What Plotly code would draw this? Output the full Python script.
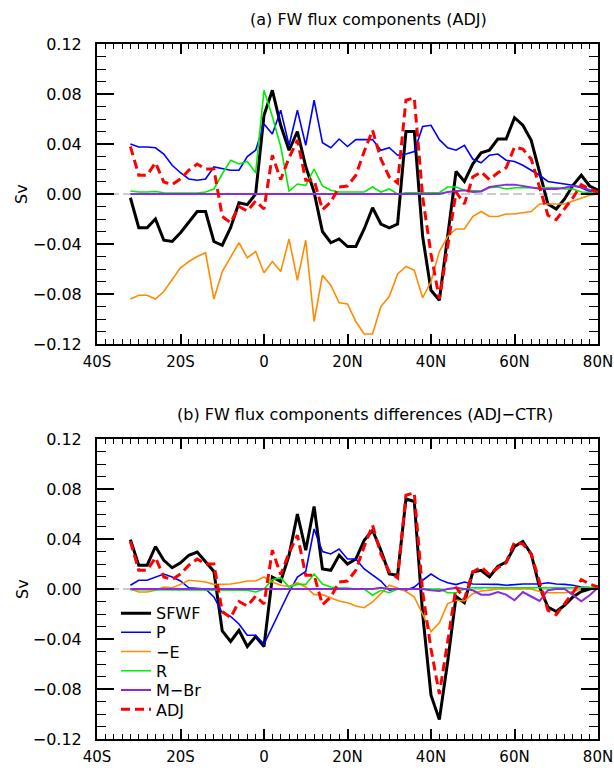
import plotly.graph_objects as go

# ---------------- data ----------------
lat = [-32, -30, -28, -26, -24, -22, -20, -18, -16, -14, -12, -10, -8, -6, -4, -2,
       0, 2, 4, 6, 8, 10, 12, 14, 16, 18, 20, 22, 24, 26, 28, 30, 32, 34, 36, 38,
       40, 42, 44, 46, 48, 50, 52, 54, 56, 58, 60, 62, 64, 66, 68, 70, 72, 74, 76, 78, 80]

# panel (a): ADJ
a_sfwf = [-0.003, -0.027, -0.027, -0.020, -0.037, -0.038, -0.031, -0.022, -0.014, -0.014,
          -0.038, -0.041, -0.027, -0.007, -0.0085, 0.000, 0.063, 0.083, 0.055, 0.035,
          0.050, 0.022, 0.0015, -0.030, -0.039, -0.036, -0.042, -0.042, -0.028, -0.011,
          -0.024, -0.027, -0.024, 0.050, 0.050, -0.034, -0.077, -0.085, -0.034, 0.018,
          0.010, 0.024, 0.033, 0.035, 0.044, 0.044, 0.061, 0.055, 0.043, 0.018,
          -0.008, -0.012, -0.004, 0.007, 0.015, 0.0064, 0.003]
a_p = [0.040, 0.0376, 0.0376, 0.037, 0.032, 0.023, 0.017, 0.012, 0.011, 0.012,
       0.0216, 0.020, 0.019, 0.019, 0.030, 0.035, 0.056, 0.048, 0.067, 0.039,
       0.067, 0.039, 0.075, 0.041, 0.037, 0.044, 0.038, 0.0435, 0.0435, 0.0435,
       0.035, 0.037, 0.031, 0.032, 0.034, 0.054, 0.055, 0.0435, 0.037, 0.035,
       0.039, 0.028, 0.025, 0.031, 0.032, 0.027, 0.026, 0.023, 0.019, 0.015,
       0.010, 0.009, 0.008, 0.007, 0.005, 0.002, 0.001]
a_e = [-0.084, -0.081, -0.081, -0.084, -0.078, -0.069, -0.059, -0.054, -0.050, -0.047,
       -0.084, -0.062, -0.050, -0.039, -0.051, -0.046, -0.063, -0.054, -0.062, -0.036,
       -0.069, -0.037, -0.102, -0.065, -0.073, -0.087, -0.088, -0.102, -0.112, -0.112,
       -0.090, -0.082, -0.064, -0.058, -0.061, -0.083, -0.070, -0.046, -0.034, -0.028,
       -0.028, -0.018, -0.014, -0.018, -0.018, -0.016, -0.016, -0.015, -0.014, -0.008,
       -0.008, -0.008, -0.008, -0.0056, -0.003, -0.001, 0.0]
a_r = [0.0024, 0.0016, 0.0016, 0.002, 0.001, 0.0008, 0.0008, 0.0008, 0.0008, 0.0016,
       0.004, 0.016, 0.027, 0.024, 0.026, 0.017, 0.083, 0.062, 0.038, 0.0024,
       0.008, 0.007, 0.020, 0.0064, 0.003, 0.0016, 0.0016, 0.0016, 0.0016, 0.0056,
       0.0016, 0.004, 0.0, 0.001, 0.001, 0.001, 0.001, 0.001, 0.0056, 0.0056,
       0.003, 0.0024, 0.0024, 0.005, 0.0056, 0.004, 0.005, 0.005, 0.005, 0.005,
       0.005, 0.005, 0.004, 0.004, 0.0016, 0.001, 0.001]
a_mbr = [0.0, 0.0, 0.0, 0.0, 0.0, 0.0, 0.0, 0.0, 0.0, 0.0,
         0.0, 0.0, 0.0, 0.0, 0.0, 0.0, 0.0, 0.0, 0.0, 0.0,
         0.0, 0.0, 0.0, 0.0, 0.0, 0.0, 0.0, 0.0, 0.0, 0.0,
         0.0, 0.0, 0.0, 0.0, 0.0, 0.0, 0.0, 0.0, 0.0016, 0.0024,
         0.003, 0.0016, 0.002, 0.0056, 0.0067, 0.0075, 0.0075, 0.0064, 0.005, 0.0043,
         0.004, 0.004, 0.005, 0.0064, 0.0056, 0.003, 0.001]
adj = [0.038, 0.015, 0.015, 0.025, 0.0096, 0.0075, 0.012, 0.019, 0.024, 0.020,
       0.020, -0.018, -0.023, -0.010, -0.0136, -0.0056, -0.012, 0.031, 0.0115, 0.029,
       0.043, 0.011, 0.011, -0.0125, -0.0064, 0.0056, 0.0064, 0.015, 0.034, 0.051,
       0.028, 0.0136, 0.0088, 0.075, 0.077, -0.0024, -0.048, -0.084, -0.042, 0.0016,
       -0.008, 0.0136, 0.0176, 0.0115, 0.017, 0.021, 0.0376, 0.036, 0.028, 0.0056,
       -0.017, -0.0205, -0.012, -0.003, 0.0075, 0.004, 0.0016]

# panel (b): ADJ - CTR
b_sfwf = [0.0395, 0.019, 0.019, 0.034, 0.023, 0.017, 0.021, 0.027, 0.0296, 0.0216,
          0.014, -0.0336, -0.042, -0.033, -0.046, -0.038, -0.046, 0.0096, 0.006, 0.027,
          0.060, 0.031, 0.066, 0.016, 0.015, 0.027, 0.020, 0.024, 0.039, 0.047,
          0.031, 0.012, 0.011, 0.072, 0.070, -0.020, -0.085, -0.1045, -0.058, -0.006,
          -0.011, 0.0136, 0.015, 0.0096, 0.018, 0.0216, 0.034, 0.038, 0.028, 0.0016,
          -0.0144, -0.018, -0.013, -0.0064, -0.002, 0.0, 0.0016]
b_p = [0.003, 0.007, 0.007, 0.0096, 0.012, 0.0096, 0.0064, 0.001, 0.0008, 0.0,
       -0.0064, -0.019, -0.022, -0.028, -0.037, -0.037, -0.044, -0.030, -0.016, -0.0024,
       0.0096, 0.014, 0.048, 0.030, 0.028, 0.032, 0.024, 0.024, 0.016, 0.0115,
       0.0064, -0.001, 0.0, -0.001, 0.0016, 0.007, 0.012, 0.0077, 0.005, 0.0035,
       0.0056, 0.004, 0.004, 0.004, 0.0037, 0.003, 0.0037, 0.004, 0.004, 0.004,
       0.005, 0.004, 0.0037, 0.003, 0.0016, 0.001, 0.0008]
b_e = [0.0, -0.0024, -0.0024, -0.001, 0.0016, 0.001, 0.0037, 0.007, 0.0064, 0.0056,
       0.0037, 0.0037, 0.004, 0.005, 0.0064, 0.0064, 0.0096, 0.0056, 0.003, 0.002,
       0.005, 0.0016, -0.0045, -0.0045, -0.007, -0.0096, -0.011, -0.0136, -0.015, -0.0104,
       -0.0037, 0.003, 0.0008, -0.002, -0.0064, -0.020, -0.034, -0.027, -0.0117, -0.009,
       -0.0096, -0.0037, -0.0016, -0.001, 0.0, 0.0, 0.0, 0.0, 0.0, -0.002,
       -0.003, -0.003, -0.003, -0.002, 0.0, 0.0, 0.0]
b_r = [-0.0005, -0.0005, -0.0005, -0.0005, -0.0005, -0.0005, -0.0005, -0.0005, -0.0005, -0.0005,
       -0.0005, -0.001, -0.0005, -0.0005, -0.001, -0.0024, 0.0, 0.0075, 0.009, 0.0016,
       0.0037, 0.0037, 0.012, 0.004, 0.0016, 0.0008, 0.0008, 0.0, 0.0, -0.005,
       -0.001, -0.003, 0.0, 0.0, 0.0, 0.0, 0.0, 0.0, -0.003, -0.003,
       0.0, 0.001, 0.001, 0.001, 0.001, 0.001, 0.001, 0.001, 0.001, 0.001,
       0.001, 0.001, 0.001, 0.001, 0.001, 0.001, 0.001]
b_mbr = [0.0, 0.0, 0.0, 0.0, 0.0, 0.0, 0.0, 0.0, 0.0, 0.0,
         0.0, 0.0, 0.0, 0.0, 0.0, 0.0, 0.0, 0.0, 0.0, 0.0,
         0.0, 0.0, 0.0, 0.0, 0.0, 0.0, 0.0, 0.0, 0.0, 0.0,
         0.001, 0.0, 0.0, 0.0, 0.0, 0.0, -0.001, -0.0016, 0.0, 0.001,
         0.0, -0.001, -0.0045, -0.0045, -0.0024, -0.0045, -0.009, -0.0024, -0.006, -0.0096,
         -0.001, 0.0, 0.0, -0.005, -0.0099, -0.005, 0.001]

names = ["SFWF", "P", "\u2212E", "R", "M\u2212Br", "ADJ"]
x_tickvals = [-40, -20, 0, 20, 40, 60, 80]
x_ticktext = ["40S", "20S", "0", "20N", "40N", "60N", "80N"]
y_tickvals = [-0.12, -0.08, -0.04, 0.0, 0.04, 0.08, 0.12]
titles = ["(a) FW flux components (ADJ)",
          "(b) FW flux components differences (ADJ\u2212CTR)"]

# ---------------- styling ----------------
FONT = "DejaVu Sans"
W, H = 614, 768
OFF = 0  # page body margin is removed by the post script below

def px_x(x):
    return (x - OFF) / W

def px_y(y):
    return (H - (y - OFF)) / H

styles = [
    dict(color="black", width=3, dash="solid"),
    dict(color="#0000ff", width=1.6, dash="solid"),
    dict(color="#ff8c00", width=1.6, dash="solid"),
    dict(color="#00ee00", width=1.6, dash="solid"),
    dict(color="#8a2be2", width=2, dash="solid"),
    dict(color="#ff0000", width=3, dash="9px,5px"),
]

fig = go.Figure()

panel_a = [a_sfwf, a_p, a_e, a_r, a_mbr, adj]
panel_b = [b_sfwf, b_p, b_e, b_r, b_mbr, adj]
legend_ids = ["legend", "legend2", "legend3", "legend4", "legend5", "legend6"]

for i, ys in enumerate(panel_a):
    fig.add_trace(go.Scatter(x=lat, y=ys, mode="lines", name=names[i],
                             line=styles[i], showlegend=False,
                             xaxis="x", yaxis="y"))
for i, ys in enumerate(panel_b):
    fig.add_trace(go.Scatter(x=lat, y=ys, mode="lines", name=names[i],
                             line=styles[i], showlegend=True, legend=legend_ids[i],
                             xaxis="x2", yaxis="y2"))

# zero reference lines
for xr, yr in [("x", "y"), ("x2", "y2")]:
    fig.add_shape(type="line", xref=xr + " domain", yref=yr, x0=0, x1=1, y0=0, y1=0,
                  layer="below", line=dict(color="#cccccc", width=2, dash="9px,4px"))

xdom = [px_x(97), px_x(598)]
ydom_a = [px_y(344), px_y(44)]
ydom_b = [px_y(739), px_y(439)]

def xaxis_style(anchor):
    return dict(domain=xdom, anchor=anchor, range=[-40, 80], automargin=False,
                tickvals=x_tickvals, ticktext=x_ticktext, ticklabeloverflow="allow",
                ticks="inside", ticklen=10, tickwidth=1.5, tickcolor="black",
                minor=dict(dtick=2, tick0=0, ticks="inside", ticklen=5, tickwidth=1.2,
                           tickcolor="black", showgrid=False),
                showline=True, linewidth=2, linecolor="black", mirror="allticks",
                showgrid=False, zeroline=False, ticklabelstandoff=3,
                tickfont=dict(family=FONT, size=15, color="black"))

def yaxis_style(anchor, dom):
    return dict(domain=dom, anchor=anchor, range=[-0.12, 0.12], automargin=False,
                tickvals=y_tickvals, tickformat=".2f", ticklabeloverflow="allow",
                ticks="inside", ticklen=17, tickwidth=1.5, tickcolor="black",
                minor=dict(dtick=0.01, tick0=0, ticks="inside", ticklen=9, tickwidth=1.2,
                           tickcolor="black", showgrid=False),
                showline=True, linewidth=2, linecolor="black", mirror="allticks",
                showgrid=False, zeroline=False, ticklabelstandoff=10,
                tickfont=dict(family=FONT, size=16, color="black"))

layout = dict(
    width=W, height=H, autosize=False,
    margin=dict(l=0, r=0, t=0, b=0, autoexpand=False),
    paper_bgcolor="white", plot_bgcolor="white",
    font=dict(family=FONT, size=16, color="black"),
    xaxis=xaxis_style("y"), yaxis=yaxis_style("x", ydom_a),
    xaxis2=xaxis_style("y2"), yaxis2=yaxis_style("x2", ydom_b),
)

legend_y_px = [613.3, 632.3, 651.6, 670.8, 690.1, 709.4]
for lid, ypx in zip(legend_ids, legend_y_px):
    layout[lid] = dict(x=px_x(116), xanchor="left", y=px_y(ypx), yanchor="middle",
                       bgcolor="rgba(0,0,0,0)", borderwidth=0,
                       font=dict(family=FONT, size=16, color="black"))

fig.update_layout(**layout)

annotations = [
    dict(text=titles[0], x=px_x(368), y=px_y(19), xref="paper", yref="paper",
         xanchor="center", yanchor="middle", showarrow=False,
         font=dict(family=FONT, size=16, color="black")),
    dict(text=titles[1], x=px_x(365), y=px_y(414), xref="paper", yref="paper",
         xanchor="center", yanchor="middle", showarrow=False,
         font=dict(family=FONT, size=16, color="black")),
    dict(text="Sv", x=px_x(22), y=px_y(194), xref="paper", yref="paper",
         xanchor="center", yanchor="middle", showarrow=False, textangle=-90,
         font=dict(family=FONT, size=16, color="black")),
    dict(text="Sv", x=px_x(22), y=px_y(589), xref="paper", yref="paper",
         xanchor="center", yanchor="middle", showarrow=False, textangle=-90,
         font=dict(family=FONT, size=16, color="black")),
]
fig.update_layout(annotations=annotations)

fig.write_html("out.html",
               config={"displayModeBar": False},
               post_script="document.body.style.margin='0';"
                           "document.documentElement.style.overflow='hidden';")
